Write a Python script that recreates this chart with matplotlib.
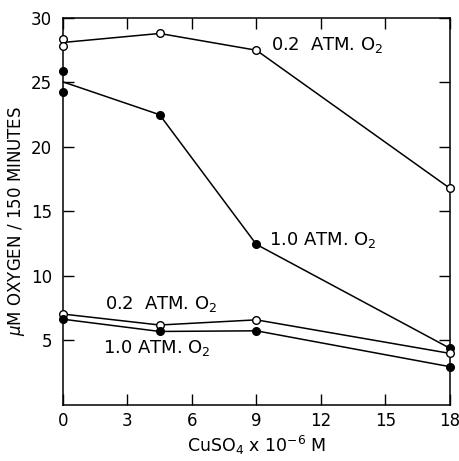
import matplotlib
matplotlib.use("Agg")
import matplotlib.pyplot as plt

# Data
cuso4 = [0, 4.5, 9, 18]
upper_02_line = [28.1, 28.8, 27.5, 16.8]
upper_02_x = [0, 0, 4.5, 9, 18]
upper_02_pts = [28.4, 27.8, 28.8, 27.5, 16.8]

upper_10_line = [25.05, 22.5, 12.45, 4.4]
upper_10_x = [0, 0, 4.5, 9, 18]
upper_10_pts = [25.9, 24.3, 22.5, 12.45, 4.4]

lower_02 = [7.05, 6.2, 6.6, 4.0]
lower_10 = [6.65, 5.7, 5.75, 2.97]

xticks = [0, 3, 6, 9, 12, 15, 18]
yticks = [5, 10, 15, 20, 25, 30]

plt.rcParams['font.family'] = ['DejaVu Sans']
fig = plt.figure(figsize=(4.59, 4.61), dpi=100)
ax = fig.add_axes([0.137, 0.1215, 0.843, 0.8395])

lw = 1.1
ms = 5.5
ax.plot(cuso4, upper_02_line, color='black', lw=lw, zorder=2)
ax.plot(upper_02_x, upper_02_pts, 'o', mfc='white', mec='black', ms=ms, mew=1.0, zorder=3, clip_on=False)
ax.plot(cuso4, upper_10_line, color='black', lw=lw, zorder=2)
ax.plot(upper_10_x, upper_10_pts, 'o', mfc='black', mec='black', ms=ms, zorder=3, clip_on=False)
ax.plot(cuso4, lower_02, color='black', lw=lw, marker='o', mfc='white', mec='black', ms=ms, mew=1.0, zorder=3, clip_on=False)
ax.plot(cuso4, lower_10, color='black', lw=lw, marker='o', mfc='black', mec='black', ms=ms, zorder=3, clip_on=False)

ax.set_xlim(0, 18)
ax.set_ylim(0, 30)
ax.set_xticks(xticks)
ax.set_yticks(yticks)
ax.tick_params(direction='in', length=8, width=1.0, labelsize=12, top=True, right=True, pad=8)
ax.tick_params(axis='x', pad=5)
for s in ax.spines.values():
    s.set_linewidth(1.1)

fs = 13
ax.text(9.7, 27.9, r'0.2  ATM. O$_2$', fontsize=fs, va='center', ha='left')
ax.text(9.6, 12.8, r'1.0 ATM. O$_2$', fontsize=fs, va='center', ha='left')
ax.text(1.95, 7.8, r'0.2  ATM. O$_2$', fontsize=fs, va='center', ha='left')
ax.text(1.87, 4.4, r'1.0 ATM. O$_2$', fontsize=fs, va='center', ha='left')

ax.set_xlabel(r'CuSO$_4$ x 10$^{-6}$ M', fontsize=12.5, labelpad=3)
ax.set_ylabel(r'$\mu$M OXYGEN / 150 MINUTES', fontsize=12)
ax.yaxis.set_label_coords(-0.092, 0.475)

fig.savefig('out.png', dpi=100)
